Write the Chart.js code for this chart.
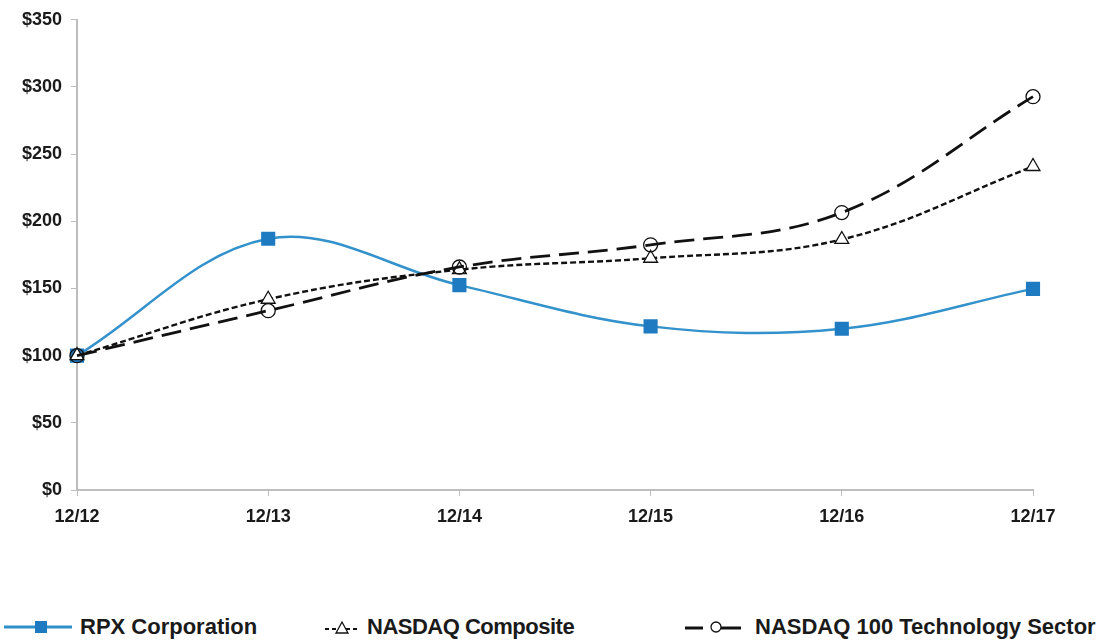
<!DOCTYPE html>
<html>
<head>
<meta charset="utf-8">
<script src="https://cdn.jsdelivr.net/npm/chart.js@4/dist/chart.umd.min.js"></script>
<style>
  html, body { margin: 0; padding: 0; background: #fff; }
  #wrap { position: relative; width: 1112px; height: 641px; }
  #chartBox { position: absolute; left: 0; top: 0; width: 1112px; height: 530px; }
  #legend {
    position: absolute; left: 0; top: 612px; width: 1112px; height: 30px;
    font-family: "Liberation Sans", Arial, sans-serif;
    font-weight: bold; font-size: 22px; color: #1a1a1a;
  }
  .item { position: absolute; top: 0; display: flex; align-items: center; height: 30px; }
  .item svg { margin-right: 8px; }
</style>
</head>
<body>
<div id="wrap">
  <div id="chartBox"><canvas id="chart"></canvas></div>
  <div id="legend">
    <div class="item" style="left:4px">
      <svg width="68" height="20"><line x1="0" y1="10" x2="68" y2="10" stroke="#2f8fc9" stroke-width="3"/><rect x="31" y="4" width="12" height="12" fill="#1f7bc1"/></svg>
      <span>RPX Corporation</span>
    </div>
    <div class="item" style="left:325px">
      <svg width="34" height="20"><line x1="0" y1="12" x2="34" y2="12" stroke="#111" stroke-width="2" stroke-dasharray="4,3"/><polygon points="17,5 23,16 11,16" fill="#fff" stroke="#111" stroke-width="1.3"/></svg>
      <span style="letter-spacing:-0.5px">NASDAQ Composite</span>
    </div>
    <div class="item" style="left:685px">
      <svg width="62" height="20"><line x1="0" y1="11" x2="18" y2="11" stroke="#111" stroke-width="3"/><line x1="36" y1="11" x2="56" y2="11" stroke="#111" stroke-width="3"/><circle cx="31" cy="10" r="5" fill="#fff" stroke="#111" stroke-width="1.3"/></svg>
      <span>NASDAQ 100 Technology Sector</span>
    </div>
  </div>
</div>
<script>
/* ── Data ─────────────────────────────────────── */
const labels    = ['12/12', '12/13', '12/14', '12/15', '12/16', '12/17'];
const rpx       = [100, 187, 152.5, 121.8, 120, 149.7];
const composite = [100, 142, 164, 172.5, 186.5, 240.8];
const tech      = [100, 133.5, 166, 182.5, 206.5, 292.8];
const yTicks    = [0, 50, 100, 150, 200, 250, 300, 350];

/* ── Style ────────────────────────────────────── */
const C_BLUE_LINE = '#3391cb';
const C_BLUE_MARK = '#1f7bc1';
const C_BLACK     = '#111';
const C_AXIS      = '#bdbdbd';
const TICK_FONT   = { family: 'Liberation Sans, Arial, sans-serif', size: 18, weight: 'bold' };

new Chart(document.getElementById('chart').getContext('2d'), {
  type: 'line',
  data: {
    labels,
    datasets: [
      {
        label: 'NASDAQ 100 Technology Sector',
        data: tech,
        borderColor: C_BLACK,
        borderWidth: 2.8,
        borderDash: [20, 9],
        tension: 0.38,
        pointStyle: 'circle',
        pointRadius: 7,
        pointBorderWidth: 1.3,
        pointBorderColor: C_BLACK,
        pointBackgroundColor: 'rgba(255,255,255,0)',
      },
      {
        label: 'NASDAQ Composite',
        data: composite,
        borderColor: C_BLACK,
        borderWidth: 2.4,
        borderDash: [6, 3],
        tension: 0.38,
        pointStyle: 'triangle',
        pointRadius: 8,
        pointBorderWidth: 1.3,
        pointBorderColor: C_BLACK,
        pointBackgroundColor: '#fff',
      },
      {
        label: 'RPX Corporation',
        data: rpx,
        borderColor: C_BLUE_LINE,
        borderWidth: 2.5,
        tension: 0.36,
        pointStyle: 'rect',
        pointRadius: 10,
        pointBorderWidth: 0,
        pointBackgroundColor: C_BLUE_MARK,
      },
    ],
  },
  options: {
    responsive: true,
    maintainAspectRatio: false,
    animation: false,
    layout: { padding: { top: 6, right: 79, left: 0, bottom: 0 } },
    plugins: {
      legend: { display: false },
      tooltip: { enabled: false },
    },
    scales: {
      x: {
        offset: false,
        grid: { display: true, drawOnChartArea: false, drawTicks: true, tickLength: 6, color: C_AXIS },
        border: { color: C_AXIS, width: 2 },
        ticks: { color: '#1a1a1a', font: TICK_FONT, padding: 10, maxRotation: 0 },
        afterFit(s) { s.height = 40; },
      },
      y: {
        min: 0, max: 350,
        afterBuildTicks(s) { s.ticks = yTicks.map(v => ({ value: v })); },
        grid: { display: true, drawOnChartArea: false, drawTicks: true, tickLength: 6, color: C_AXIS },
        border: { color: C_AXIS, width: 2 },
        ticks: { color: '#1a1a1a', font: TICK_FONT, padding: 9, callback: v => '$' + v },
        afterFit(s) { s.width = 77; },
      },
    },
  },
});
</script>
</body>
</html>
